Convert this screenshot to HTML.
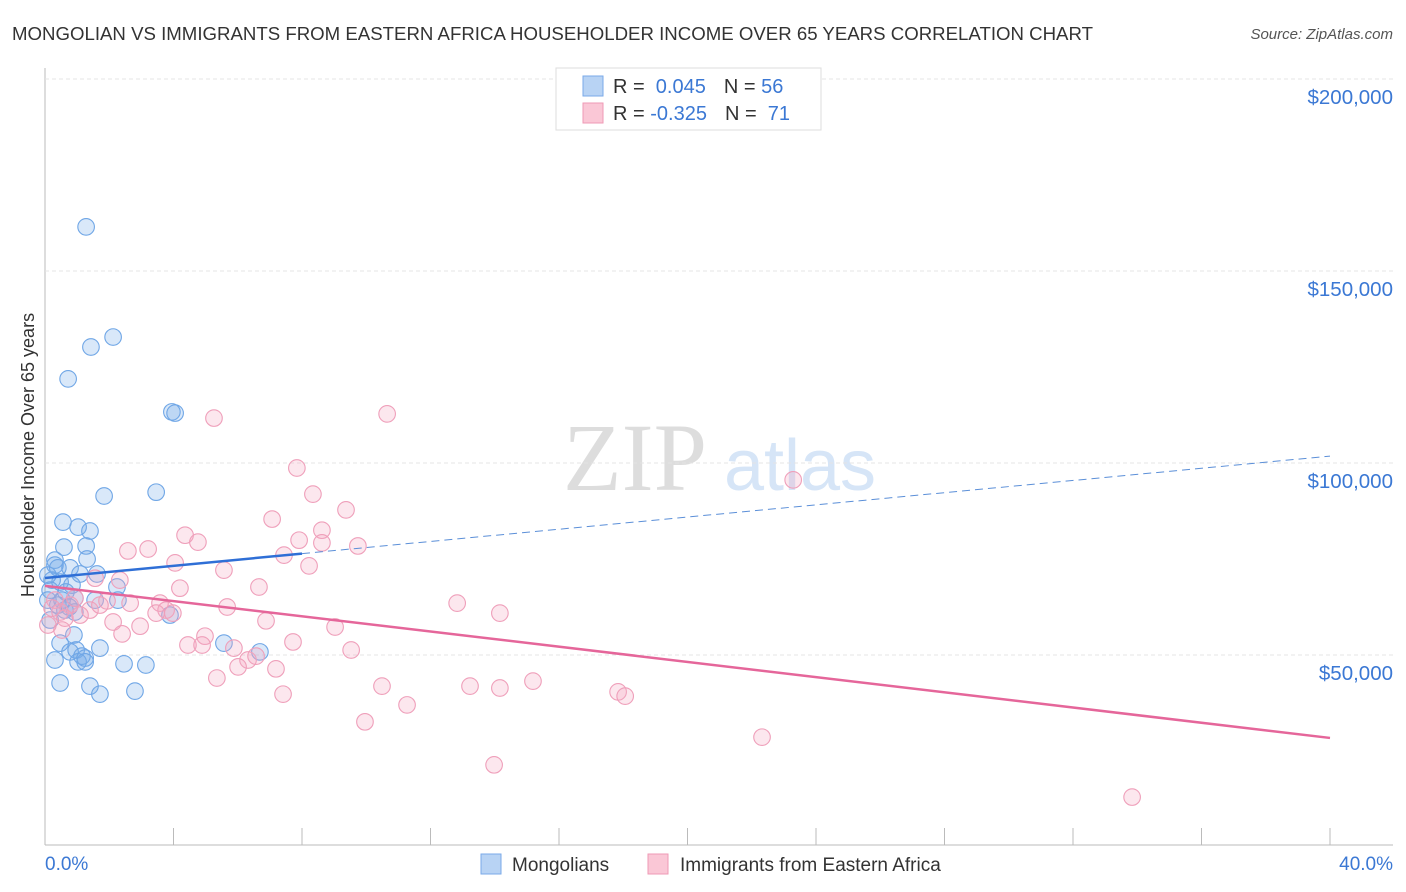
<!DOCTYPE html>
<html><head><meta charset="utf-8">
<style>
body{margin:0;background:#fff;font-family:"Liberation Sans",sans-serif;}
#c{position:relative;width:1406px;height:892px;overflow:hidden}
</style></head><body>
<div id="c">
<svg id="s" width="1406" height="892" xmlns="http://www.w3.org/2000/svg">
<text x="12" y="40" font-size="18" fill="#333" textLength="1081" lengthAdjust="spacingAndGlyphs">MONGOLIAN VS IMMIGRANTS FROM EASTERN AFRICA HOUSEHOLDER INCOME OVER 65 YEARS CORRELATION CHART</text>
<text x="1393" y="39" font-size="15" fill="#555" font-style="italic" text-anchor="end">Source: ZipAtlas.com</text>
<text x="635" y="490" font-size="96" fill="#ddd" font-family="Liberation Serif,serif" text-anchor="middle">ZIP</text>
<text x="800" y="490" font-size="72" fill="#d6e5f7" text-anchor="middle">atlas</text>
<g id="grid"></g><g id="pts"></g><g id="lines"></g>
<text x="34" y="455" font-size="18" fill="#333" transform="rotate(-90 34 455)" text-anchor="middle">Householder Income Over 65 years</text>
<text x="45" y="870" font-size="19" fill="#3b78d4">0.0%</text>
<text x="1393" y="870" font-size="19" fill="#3b78d4" text-anchor="end">40.0%</text>
<g>
<rect x="556" y="68" width="265" height="62" fill="#fff" stroke="#ddd"/>
<rect x="583" y="76" width="20" height="20" fill="#b8d3f4" stroke="#7aaae8"/>
<rect x="583" y="103" width="20" height="20" fill="#fac7d6" stroke="#ef9ab5"/>
<text x="613" y="93" font-size="20" fill="#333">R = <tspan fill="#3b78d4">&#160;0.045</tspan><tspan dx="18">N = </tspan><tspan fill="#3b78d4">56</tspan></text>
<text x="613" y="120" font-size="20" fill="#333">R = <tspan fill="#3b78d4">-0.325</tspan><tspan dx="18">N = </tspan><tspan fill="#3b78d4">&#160;71</tspan></text>
</g>
<g>
<rect x="481" y="854" width="20" height="20" fill="#b8d3f4" stroke="#7aaae8"/>
<text x="512" y="871" font-size="19" fill="#333">Mongolians</text>
<rect x="648" y="854" width="20" height="20" fill="#fac7d6" stroke="#ef9ab5"/>
<text x="680" y="871" font-size="19" fill="#333">Immigrants from Eastern Africa</text>
</g>
</svg>
</div>
<script>
const yTicks=[50,100,150,200];
const yTickLabels=["$50,000","$100,000","$150,000","$200,000"];
const xTicks=[0,4,8,12,16,20,24,28,32,36,40];
const blueX=[1.28,2.12,1.43,0.72,3.95,4.05,1.84,3.46,0.56,1.03,1.40,0.59,1.28,1.31,0.31,0.31,0.40,0.78,1.09,1.62,0.22,0.47,0.84,2.24,0.16,0.65,0.93,0.09,0.40,0.75,0.93,2.27,3.89,5.57,6.69,0.90,0.47,0.78,0.97,1.15,1.03,1.25,1.71,2.46,3.14,0.47,1.40,1.71,2.80,0.31,0.62,0.16,1.25,0.09,0.53,1.56];
const blueY=[161.5,132.8,130.2,121.9,113.3,113.0,91.4,92.4,84.6,83.3,82.3,78.1,78.4,75.0,74.7,73.4,72.7,72.7,71.1,71.1,69.5,69.0,68.2,67.7,66.9,66.4,64.8,64.3,63.0,62.5,61.2,64.3,60.4,53.1,50.8,55.2,53.1,50.8,51.3,49.7,48.2,49.2,51.8,47.7,47.4,42.7,41.9,39.8,40.6,48.7,61.7,59.1,48.2,70.8,64.3,64.3];
const pinkX=[5.26,10.65,7.84,23.29,8.34,9.37,7.07,8.62,4.36,4.76,2.58,3.21,9.74,7.91,8.62,7.44,8.22,4.05,5.57,1.56,2.33,4.20,6.66,3.58,1.93,2.65,5.67,3.77,3.46,3.98,12.83,14.16,6.88,2.12,2.96,2.40,4.98,4.45,4.89,7.72,5.88,9.03,9.53,6.32,6.01,6.57,7.19,5.35,10.49,13.23,14.16,15.19,17.84,18.06,7.41,11.27,9.96,22.32,13.98,33.84,0.47,0.78,0.31,0.62,0.09,1.40,1.71,0.93,0.22,1.09,0.53];
const pinkY=[111.7,112.8,98.7,95.6,91.9,87.8,85.4,82.5,81.2,79.4,77.1,77.6,78.4,79.9,79.2,76.0,73.2,74.0,72.1,70.0,69.5,67.4,67.7,63.5,64.1,63.5,62.5,61.7,60.9,60.9,63.5,60.9,58.9,58.6,57.5,55.5,54.9,52.6,52.6,53.4,51.8,57.3,51.3,48.7,46.9,49.7,46.4,44.0,41.9,41.9,41.4,43.2,40.4,39.3,39.8,37.0,32.6,28.6,21.4,13.0,61.2,63.0,64.3,59.6,57.8,61.7,63.0,64.8,62.2,60.4,56.5];
const blueTrend=[70.05,101.8];
const blueSolidEnd=8;
const pinkTrend=[68.0,28.4];
const NS="http://www.w3.org/2000/svg";
const X=v=>45+v/40*1285, Y=v=>847-v*3.84;
function mk(t,a,p){const e=document.createElementNS(NS,t);for(const k in a)e.setAttribute(k,a[k]);p.appendChild(e);return e;}
const grid=document.getElementById('grid');
let ax=mk('line',{x1:45,y1:68,x2:45,y2:845,stroke:'#bbb'},grid);


let bx=mk('line',{x1:45,y1:845,x2:1393,y2:845,stroke:'#bbb'},grid);


yTicks.forEach((t,i)=>{
 const g=mk('line',{x1:45,x2:1393,y1:Y(t),y2:Y(t),stroke:'#e4e4e4','stroke-dasharray':'4,3'},grid);
 
 
 const l=mk('text',{x:1393,y:Y(t)+25,'font-size':20.5,fill:'#3b78d4','text-anchor':'end'},grid);
 l.textContent=yTickLabels[i];
 
 
});
xTicks.forEach(t=>{
 const k=mk('line',{x1:X(t),x2:X(t),y1:828,y2:845,stroke:'#bbb'},grid);
 
 
});
const pts=document.getElementById('pts');
blueX.forEach((x,i)=>{
 const c=mk('circle',{cx:X(x),cy:Y(blueY[i]),r:8.3,fill:'rgba(120,172,235,0.28)',stroke:'#6fa6e6','stroke-width':1.1},pts);
 
 
});
pinkX.forEach((x,i)=>{
 const c=mk('circle',{cx:X(x),cy:Y(pinkY[i]),r:8.3,fill:'rgba(246,168,194,0.28)',stroke:'#ef9fba','stroke-width':1.1},pts);
 
 
});
const lines=document.getElementById('lines');
const bAt=x=>blueTrend[0]+(blueTrend[1]-blueTrend[0])*x/40;
let l1=mk('line',{x1:X(0),y1:Y(bAt(0)),x2:X(blueSolidEnd),y2:Y(bAt(blueSolidEnd)),stroke:'#2f6fd6','stroke-width':2.5},lines);


let l2=mk('line',{x1:X(blueSolidEnd),y1:Y(bAt(blueSolidEnd)),x2:X(40),y2:Y(bAt(40)),stroke:'#5b8fd8','stroke-width':1,'stroke-dasharray':'8,5'},lines);


let l3=mk('line',{x1:X(0),y1:Y(pinkTrend[0]),x2:X(40),y2:Y(pinkTrend[1]),stroke:'#e5669a','stroke-width':2.5},lines);


</script>
</body></html>
